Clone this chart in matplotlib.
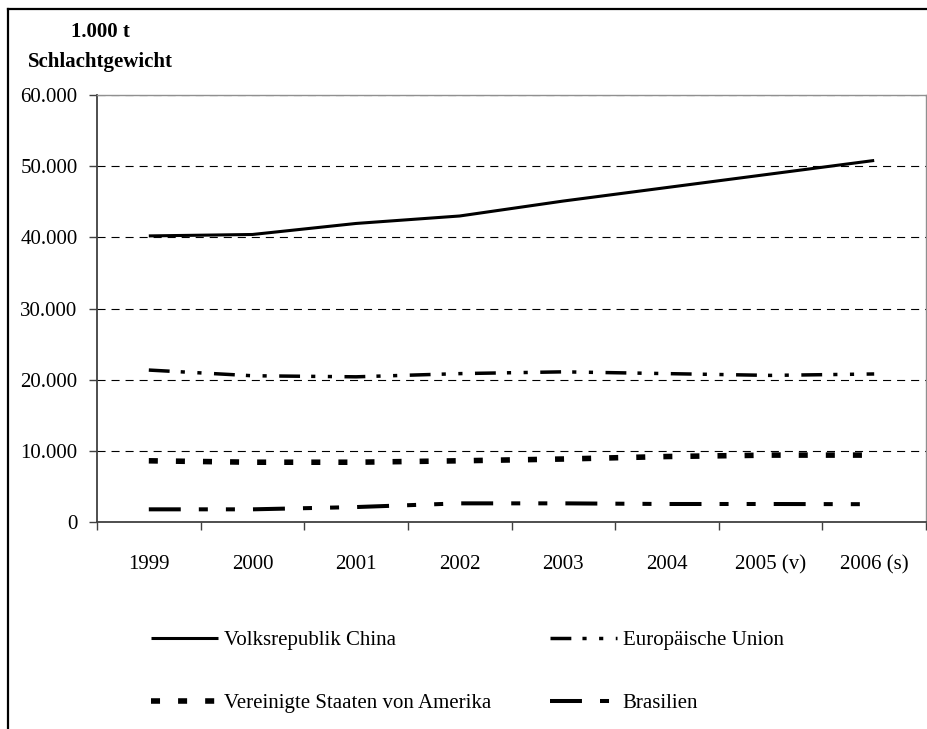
import matplotlib
matplotlib.use("Agg")
import matplotlib.pyplot as plt
from matplotlib.lines import Line2D
from matplotlib.ticker import FuncFormatter, FixedLocator

plt.rcParams['font.family'] = ['Liberation Serif', 'DejaVu Serif']
plt.rcParams['font.size'] = 15
plt.rcParams['lines.scale_dashes'] = False

years = ['1999', '2000', '2001', '2002', '2003', '2004', '2005 (v)', '2006 (s)']
china = [40200, 40400, 41950, 43000, 45100, 47000, 48900, 50800]
eu = [21350, 20550, 20400, 20850, 21100, 20850, 20600, 20800]
usa = [8600, 8400, 8400, 8600, 8850, 9200, 9400, 9400]
brazil = [1780, 1780, 2100, 2620, 2620, 2530, 2530, 2500]

W, H = 927, 729
fig = plt.figure(figsize=(W / 100, H / 100), dpi=100)
ax = fig.add_axes([97 / W, (H - 522) / H, (926 - 97) / W, (522 - 95) / H])

x = list(range(len(years)))
l_cn, = ax.plot(x, china, color='black', lw=2.2, solid_capstyle='butt',
                label='Volksrepublik China')
l_eu, = ax.plot(x, eu, color='black', lw=2.5, dashes=(15, 8, 3, 9, 3, 9),
                label='Europäische Union')
l_us, = ax.plot(x, usa, color='black', lw=4.0, dashes=(6.5, 13),
                label='Vereinigte Staaten von Amerika')
l_br, = ax.plot(x, brazil, color='black', lw=2.9, dashes=(23, 13, 6.5, 13, 6.5, 13),
                label='Brasilien')

ax.set_xlim(-0.5, len(years) - 0.5)
ax.set_ylim(0, 60000)
ax.set_yticks(range(0, 60001, 10000))
ax.yaxis.set_major_formatter(FuncFormatter(lambda v, p: f"{v:,.0f}".replace(',', '.')))
ax.yaxis.grid(True, color='black', lw=0.8, dashes=(5.8, 4.3))
ax.set_axisbelow(True)

ax.set_xticks(x)
ax.set_xticklabels(years)
ax.xaxis.set_minor_locator(FixedLocator([i - 0.5 for i in range(len(years) + 1)]))
ax.tick_params(axis='x', which='major', length=0, pad=24)
ax.tick_params(axis='x', which='minor', length=6, width=1, color='#404040', direction='out')
ax.tick_params(axis='y', length=6, width=1, color='#404040', pad=8)

for s in ['top', 'right']:
    ax.spines[s].set_color('#909090')
    ax.spines[s].set_linewidth(1.0)
for s in ['left', 'bottom']:
    ax.spines[s].set_color('#404040')
    ax.spines[s].set_linewidth(1.3)

ax.legend([l_cn, l_us, l_eu, l_br],
          [l_cn.get_label(), l_us.get_label(), l_eu.get_label(), l_br.get_label()],
          ncol=2, loc='upper left', bbox_to_anchor=(141 / W, (H - 620) / H),
          bbox_transform=fig.transFigure, frameon=False, borderpad=0,
          handlelength=3.2, handletextpad=0.3, columnspacing=2.8, labelspacing=2.1)

fig.text(100 / W, 1 - 32 / H, '1.000 t', ha='center', va='center', fontweight='bold')
fig.text(100 / W, 1 - 62 / H, 'Schlachtgewicht', ha='center', va='center', fontweight='bold')

# outer frame (left and top edges visible in the original)
fig.add_artist(Line2D([8 / W, 8 / W], [0, 1 - 9 / H], transform=fig.transFigure,
                      color='black', lw=1.6))
fig.add_artist(Line2D([8 / W, 1], [1 - 9 / H, 1 - 9 / H], transform=fig.transFigure,
                      color='black', lw=1.6))

fig.savefig('out.png', dpi=100)
